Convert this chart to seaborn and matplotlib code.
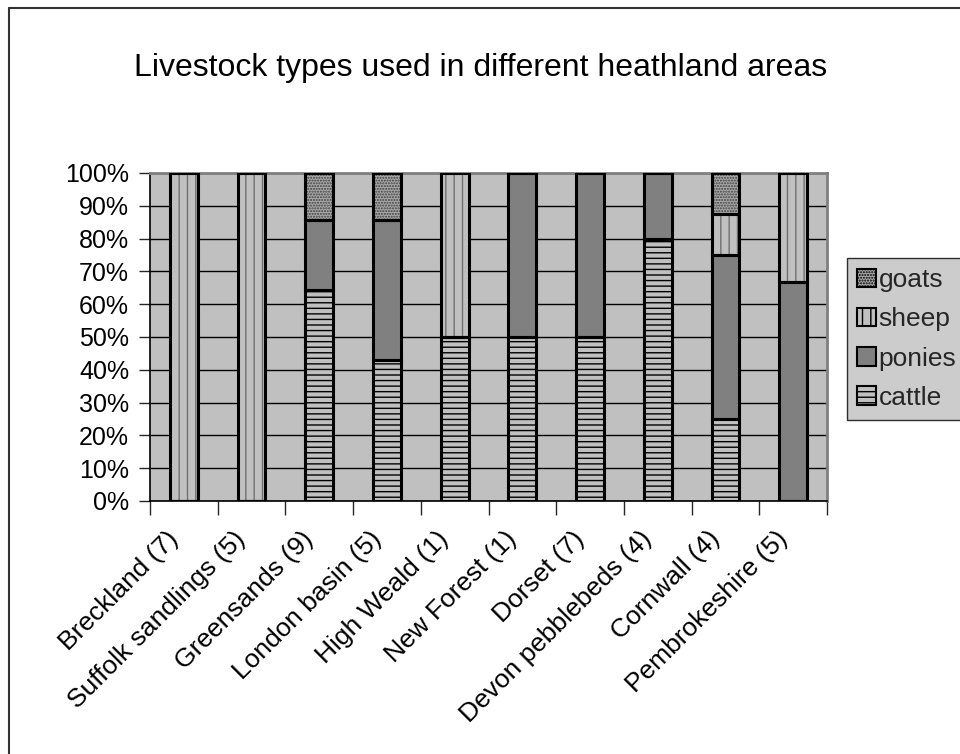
import numpy as np
import pandas as pd
import matplotlib
matplotlib.use("Agg")
import matplotlib.pyplot as plt
import matplotlib.transforms as mtransforms
import seaborn as sns
from matplotlib.patches import Patch
from matplotlib.lines import Line2D

# dati (percentuali)
areas = ["Breckland (7)", "Suffolk sandlings (5)", "Greensands (9)", "London basin (5)",
         "High Weald (1)", "New Forest (1)", "Dorset (7)", "Devon pebblebeds (4)",
         "Cornwall (4)", "Pembrokeshire (5)"]
cattle = [0, 0, 64.3, 42.9, 50, 50, 50, 80, 25, 0]
ponies = [0, 0, 21.4, 42.9, 0, 50, 50, 20, 50, 66.7]
sheep = [100, 100, 0, 0, 50, 0, 0, 0, 12.5, 33.3]
goats = [0, 0, 14.3, 14.3, 0, 0, 0, 0, 12.5, 0]
yticks = [0, 10, 20, 30, 40, 50, 60, 70, 80, 90, 100]

df = pd.DataFrame({"area": areas, "cattle": cattle, "ponies": ponies,
                   "sheep": sheep, "goats": goats})

# stile di ogni serie: (faccia, tratteggio, colore tratteggio)
styles = {
    "cattle": ("#c0c0c0", "---", "black"),
    "ponies": ("#808080", "", "black"),
    "sheep": ("#c0c0c0", "||", "#707070"),
    "goats": ("#a8a8a8", "......", "#404040"),
}

sns.set_style("white")
plt.rcParams["font.family"] = ["Liberation Sans", "DejaVu Sans"]
plt.rcParams["hatch.linewidth"] = 1.0

fig = plt.figure(figsize=(9.6, 7.54), dpi=100)
ax = fig.add_axes([150 / 960, 1 - 501 / 754, 677 / 960, 328 / 754])
ax.set_facecolor("#c0c0c0")

bottom = np.zeros(len(areas))
for s in ["cattle", "ponies", "sheep", "goats"]:
    face, hatch, hcol = styles[s]
    sns.barplot(data=df, x="area", y=s, bottom=bottom, color=face, saturation=1,
                hatch=hatch, edgecolor=hcol, linewidth=0, width=0.41, ax=ax, zorder=3)
    # contorno nero
    sns.barplot(data=df, x="area", y=s, bottom=bottom, color="white", saturation=1,
                fill=False, edgecolor="black", linewidth=2.2, width=0.41, ax=ax, zorder=4)
    bottom = bottom + df[s].values

ax.set_xlim(-0.5, len(areas) - 0.5)
ax.set_ylim(0, 100)
ax.set_yticks(yticks)
ax.set_yticklabels([f"{v}%" for v in yticks], fontsize=18, color="black")
ax.yaxis.grid(True, color="black", linewidth=1)
ax.set_axisbelow(True)
ax.tick_params(axis="y", direction="out", length=8, width=1, left=True, pad=7)

# tick maggiori ai confini, etichette sui minori
ax.set_xticks(np.arange(-0.5, len(areas), 1.0))
ax.set_xticklabels([])
ax.set_xticks(np.arange(len(areas)), minor=True)
ax.set_xticklabels(areas, minor=True, rotation=45, ha="right", va="top",
                   rotation_mode="anchor", fontsize=19, color="black")
ax.tick_params(axis="x", which="major", direction="out", length=10, width=1, bottom=True)
ax.tick_params(axis="x", which="minor", length=0, pad=20)
# sposta le etichette un po' a sinistra
shift = mtransforms.ScaledTranslation(-18 / 100, 2 / 100, fig.dpi_scale_trans)
for lab in ax.get_xticklabels(minor=True):
    lab.set_transform(lab.get_transform() + shift)
ax.set_xlabel("")
ax.set_ylabel("")

for side in ["left", "bottom"]:
    ax.spines[side].set_color("black")
    ax.spines[side].set_linewidth(1.2)
for side in ["top", "right"]:
    ax.spines[side].set_color("#808080")
    ax.spines[side].set_linewidth(2)

fig.text(481 / 960, 1 - 68 / 754, "Livestock types used in different heathland areas",
         ha="center", va="center", fontsize=23, color="black")

handles = []
for s in ["goats", "sheep", "ponies", "cattle"]:
    face, hatch, hcol = styles[s]
    handles.append(Patch(facecolor=face, hatch=hatch, edgecolor="black", linewidth=1.5, label=s))
leg = fig.legend(handles=handles, loc="upper left", bbox_to_anchor=(847 / 960, 1 - 258 / 754),
                 fontsize=19, frameon=True, fancybox=False, handlelength=0.7,
                 handleheight=0.7, handletextpad=0.12, labelspacing=0.58, borderpad=0.38,
                 borderaxespad=0)
leg.get_frame().set_facecolor("#c0c0c0")
leg.get_frame().set_edgecolor("black")
leg.get_frame().set_linewidth(1)

# bordo della figura (sinistra e alto)
fig.add_artist(Line2D([9 / 960, 9 / 960], [0, 1 - 8 / 754], color="#333333", linewidth=1.5))
fig.add_artist(Line2D([9 / 960, 1], [1 - 8 / 754, 1 - 8 / 754], color="#333333", linewidth=1.5))

fig.savefig("out.png", dpi=100)
